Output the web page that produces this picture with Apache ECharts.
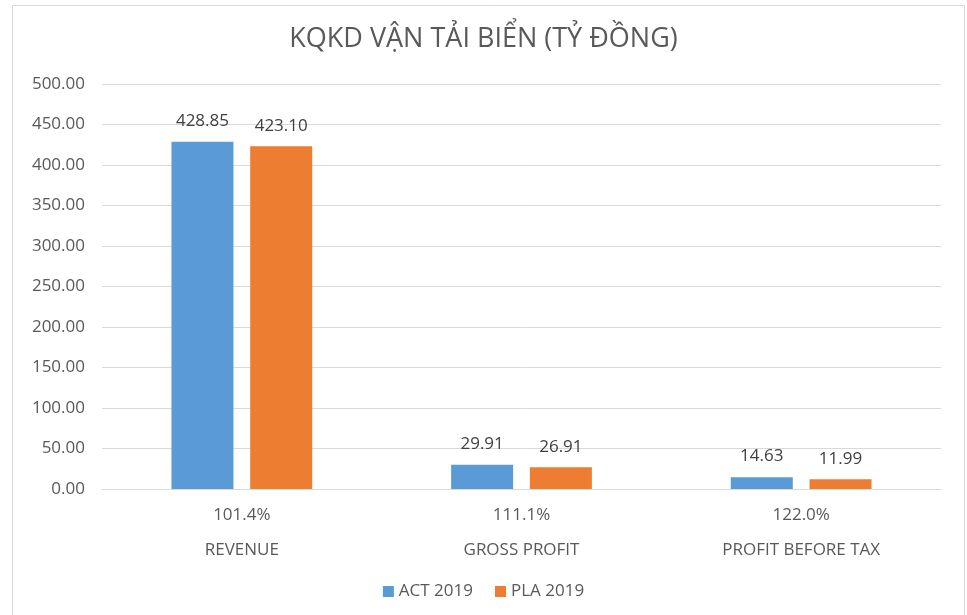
<!DOCTYPE html>
<html>
<head>
<meta charset="utf-8">
<script src="https://cdn.jsdelivr.net/npm/echarts@6/dist/echarts.min.js"></script>
<style>
  html, body { margin: 0; padding: 0; background: #fff; }
  #chart { width: 967px; height: 615px; }
</style>
</head>
<body>
<div id="chart"></div>
<script>
const categories = ['REVENUE', 'GROSS PROFIT', 'PROFIT BEFORE TAX']
const ratios = ['101.4%', '111.1%', '122.0%']
const act2019 = [428.85, 29.91, 14.63]
const pla2019 = [423.10, 26.91, 11.99]

const font = 'Open Sans'
const myChart = echarts.init(document.getElementById('chart'))
const option = {
  backgroundColor: '#fff',
  animation: false,
  title: {
    text: 'KQKD VẬN TẢI BIỂN (TỶ ĐỒNG)',
    left: 'center',
    top: 21,
    textStyle: {
      fontFamily: font,
      fontWeight: 'normal',
      fontSize: 27,
      color: '#595959'
    }
  },
  graphic: [{
    type: 'rect',
    shape: { x: 12.5, y: 5.5, width: 952, height: 620 },
    style: { fill: 'none', stroke: '#d9d9d9', lineWidth: 1 },
    silent: true
  }],
  legend: {
    bottom: 10,
    left: 'center',
    itemWidth: 11,
    itemHeight: 11,
    itemGap: 22,
    icon: 'rect',
    textStyle: { fontFamily: font, fontSize: 17, color: '#595959' },
    data: ['ACT 2019', 'PLA 2019']
  },
  grid: { left: 102, right: 26, top: 84, bottom: 126 },
  xAxis: {
    type: 'category',
    data: categories,
    axisTick: { show: false },
    axisLine: { lineStyle: { color: '#d9d9d9' } },
    axisLabel: {
      margin: 9,
      formatter: function (v, i) {
        return '{r|' + ratios[i] + '}\n{c|' + v + '}'
      },
      rich: {
        r: { fontFamily: font, fontSize: 17, color: '#595959', lineHeight: 35 },
        c: { fontFamily: font, fontSize: 17, color: '#595959', lineHeight: 35 }
      }
    }
  },
  yAxis: {
    type: 'value',
    min: 0,
    max: 500,
    interval: 50,
    axisLabel: {
      margin: 17,
      formatter: function (v) { return v.toFixed(2) },
      fontFamily: font,
      fontSize: 17,
      color: '#595959'
    },
    splitLine: { lineStyle: { color: '#d9d9d9' } }
  },
  series: [{
    name: 'ACT 2019',
    type: 'bar',
    data: act2019,
    barWidth: 62,
    barGap: '27%',
    itemStyle: { color: '#5B9BD5' },
    label: {
      show: true,
      position: 'top',
      distance: 12,
      formatter: function (p) { return p.value.toFixed(2) },
      fontFamily: font,
      fontSize: 17,
      color: '#404040'
    }
  }, {
    name: 'PLA 2019',
    type: 'bar',
    data: pla2019,
    barWidth: 62,
    itemStyle: { color: '#ED7D31' },
    label: {
      show: true,
      position: 'top',
      distance: 12,
      formatter: function (p) { return p.value.toFixed(2) },
      fontFamily: font,
      fontSize: 17,
      color: '#404040'
    }
  }]
}
myChart.setOption(option)
</script>
</body>
</html>
